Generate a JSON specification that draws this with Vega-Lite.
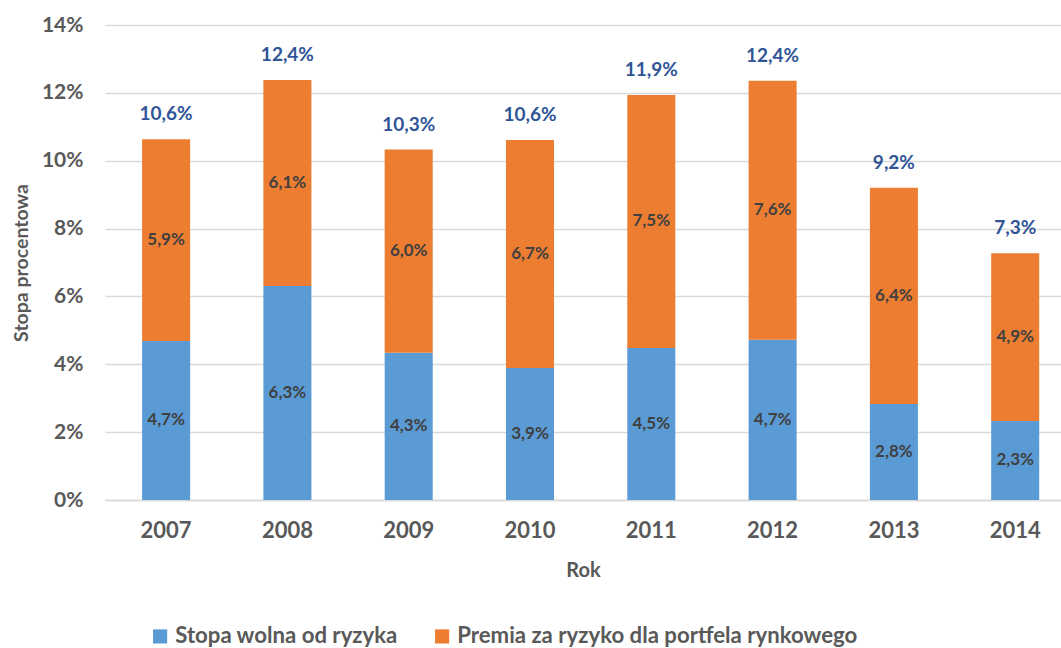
{
  "$schema": "https://vega.github.io/schema/vega-lite/v6.json",
  "width": 956,
  "height": 475,
  "padding": {"left": 105, "top": 25, "right": 0, "bottom": 148},
  "autosize": {"type": "none"},
  "background": "white",
  "config": {
    "locale": {"number": {"decimal": ",", "thousands": " ", "grouping": [3], "currency": ["", " zł"]}},
    "font": "Lato",
    "view": {"stroke": null}
  },
  "data": {
    "values": [
      {"rok": "2007", "seria": "Stopa wolna od ryzyka", "wartosc": 0.0469},
      {"rok": "2007", "seria": "Premia za ryzyko dla portfela rynkowego", "wartosc": 0.0594},
      {"rok": "2008", "seria": "Stopa wolna od ryzyka", "wartosc": 0.0631},
      {"rok": "2008", "seria": "Premia za ryzyko dla portfela rynkowego", "wartosc": 0.0607},
      {"rok": "2009", "seria": "Stopa wolna od ryzyka", "wartosc": 0.0434},
      {"rok": "2009", "seria": "Premia za ryzyko dla portfela rynkowego", "wartosc": 0.0599},
      {"rok": "2010", "seria": "Stopa wolna od ryzyka", "wartosc": 0.0389},
      {"rok": "2010", "seria": "Premia za ryzyko dla portfela rynkowego", "wartosc": 0.0672},
      {"rok": "2011", "seria": "Stopa wolna od ryzyka", "wartosc": 0.0448},
      {"rok": "2011", "seria": "Premia za ryzyko dla portfela rynkowego", "wartosc": 0.0746},
      {"rok": "2012", "seria": "Stopa wolna od ryzyka", "wartosc": 0.0472},
      {"rok": "2012", "seria": "Premia za ryzyko dla portfela rynkowego", "wartosc": 0.0764},
      {"rok": "2013", "seria": "Stopa wolna od ryzyka", "wartosc": 0.0283},
      {"rok": "2013", "seria": "Premia za ryzyko dla portfela rynkowego", "wartosc": 0.0637},
      {"rok": "2014", "seria": "Stopa wolna od ryzyka", "wartosc": 0.0233},
      {"rok": "2014", "seria": "Premia za ryzyko dla portfela rynkowego", "wartosc": 0.0494}
    ]
  },
  "encoding": {
    "x": {
      "field": "rok", "type": "ordinal",
      "scale": {"paddingInner": 0.604, "paddingOuter": 0.2426, "align": 0.63},
      "axis": {
        "title": "Rok", "labelAngle": 0, "labelFontSize": 22, "labelFontWeight": "bold", "labelColor": "#595959",
        "labelPadding": 20, "ticks": false, "domainColor": "#D9D9D9", "domainWidth": 1.5,
        "titleFontSize": 20, "titleFontWeight": "bold", "titleColor": "#595959", "titlePadding": 19
      }
    }
  },
  "layer": [
    {
      "mark": {"type": "bar"},
      "encoding": {
        "y": {
          "field": "wartosc", "type": "quantitative", "stack": "zero",
          "scale": {"domain": [0, 0.14], "nice": false},
          "axis": {
            "title": "Stopa procentowa", "format": ".0%", "values": [0, 0.02, 0.04, 0.06, 0.08, 0.1, 0.12, 0.14],
            "labelFontSize": 21, "labelFontWeight": "bold", "labelColor": "#595959", "labelPadding": 22,
            "ticks": false, "domain": false, "gridColor": "#D9D9D9", "gridWidth": 1.5,
            "titleFontSize": 19.5, "titleFontWeight": "bold", "titleColor": "#595959", "titlePadding": 10
          }
        },
        "color": {
          "field": "seria", "type": "nominal",
          "sort": ["Stopa wolna od ryzyka", "Premia za ryzyko dla portfela rynkowego"],
          "scale": {"domain": ["Stopa wolna od ryzyka", "Premia za ryzyko dla portfela rynkowego"], "range": ["#5B9BD5", "#ED7D31"]},
          "legend": {
            "title": null, "orient": "none", "direction": "horizontal", "legendX": 44, "legendY": 600,
            "labelFontSize": 22.2, "labelFontWeight": "bold", "labelColor": "#595959", "labelLimit": 0,
            "symbolType": "square", "symbolSize": 200, "symbolStrokeWidth": 0, "columnPadding": 33, "labelOffset": 4
          }
        },
        "order": {"field": "seria", "sort": "descending"}
      }
    },
    {
      "transform": [
        {"stack": "wartosc", "groupby": ["rok"], "sort": [{"field": "seria", "order": "descending"}], "as": ["y0", "y1"]},
        {"calculate": "(datum.y0 + datum.y1) / 2", "as": "srodek"}
      ],
      "mark": {"type": "text", "fontSize": 17, "fontWeight": "bold", "color": "#404040", "baseline": "middle"},
      "encoding": {
        "y": {"field": "srodek", "type": "quantitative"},
        "text": {"field": "wartosc", "type": "quantitative", "format": ".1%"}
      }
    },
    {
      "transform": [
        {"aggregate": [{"op": "sum", "field": "wartosc", "as": "suma"}], "groupby": ["rok"]}
      ],
      "mark": {"type": "text", "fontSize": 19, "fontWeight": "bold", "color": "#2F5597", "baseline": "middle", "dy": -25},
      "encoding": {
        "y": {"field": "suma", "type": "quantitative"},
        "text": {"field": "suma", "type": "quantitative", "format": ".1%"}
      }
    }
  ]
}
